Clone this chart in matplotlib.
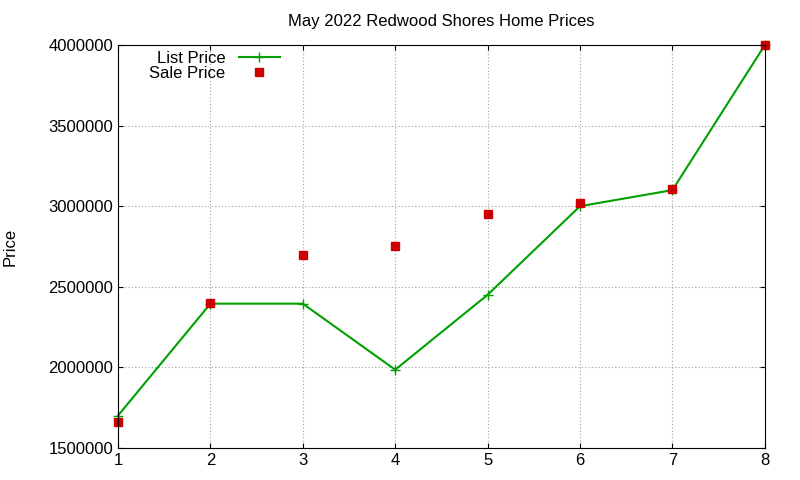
import matplotlib
matplotlib.use("Agg")
import matplotlib.pyplot as plt
plt.rcParams['font.family'] = ['Liberation Sans', 'DejaVu Sans']

x = [1, 2, 3, 4, 5, 6, 7, 8]
list_price = [1700000, 2395000, 2395000, 1985000, 2450000, 3000000, 3100000, 4000000]
sale_price = [1660000, 2400000, 2700000, 2750000, 2950000, 3020000, 3105000, 4000000]

fig = plt.figure(figsize=(8, 4.8), dpi=100)
ax = fig.add_axes([0.1475, 0.067, 0.8085, 0.839])
ax.plot(x, list_price, color="#00a000", marker="+", markersize=7, lw=1.5, label="List Price", clip_on=False)
ax.plot(x, sale_price, color="#cc0000", marker="s", markersize=6, ls="none", label="Sale Price", clip_on=False)
ax.set_xlim(1, 8)
ax.set_ylim(1500000, 4000000)
ax.set_yticks(range(1500000, 4000001, 500000))
ax.ticklabel_format(style="plain", axis="y")
ax.grid(True, color="#a0a0a0", ls=(0, (1, 2)), lw=0.8)
ax.tick_params(direction="in", labelsize=12, top=True, right=True)
ax.set_ylabel("Price", fontsize=12, labelpad=22)
ax.set_title("May 2022 Redwood Shores Home Prices", fontsize=12, pad=14)
ax.legend(loc="upper left", bbox_to_anchor=(0.03, 1.015), markerfirst=False, frameon=False,
          fontsize=12, handlelength=2.5, labelspacing=0.0, borderaxespad=0.3)
fig.savefig("out.png", dpi=100)
